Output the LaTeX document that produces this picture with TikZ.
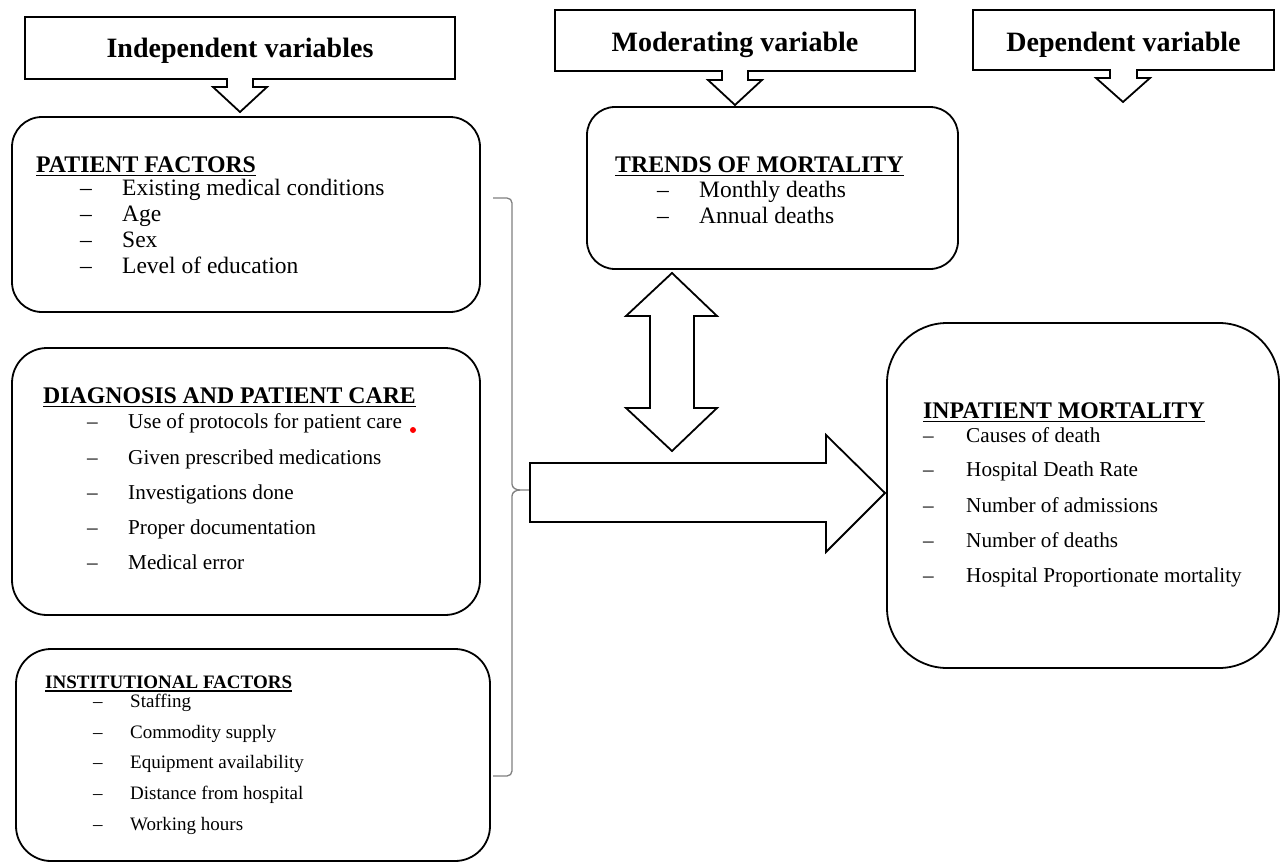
\documentclass[tikz,border=0pt]{standalone}
\usepackage{fontspec}
\setmainfont{Liberation Serif}
\begin{document}
\begin{tikzpicture}[x=1pt,y=-1pt,
  hdr/.style={draw=black, line width=1.8pt, fill=white, line join=miter},
  rbox/.style={draw=black, line width=1.8pt, inner sep=0pt},
  blockarrow/.style={draw=black, line width=1.8pt, fill=white, line join=miter},
  brace/.style={draw=gray, line width=1.3pt},
  htext/.style={inner sep=0pt, anchor=base, font=\fontsize{28}{32}\selectfont\bfseries},
  ttl/.style={inner sep=0pt, anchor=base west, font=\fontsize{23.8}{27}\selectfont\bfseries},
  ttlsmall/.style={inner sep=0pt, anchor=base west, font=\fontsize{19}{22}\selectfont\bfseries},
  itm/.style={inner sep=0pt, anchor=base west, font=\fontsize{23.5}{27}\selectfont},
  itmmid/.style={inner sep=0pt, anchor=base west, font=\fontsize{21.2}{25}\selectfont},
  itmsmall/.style={inner sep=0pt, anchor=base west, font=\fontsize{19}{22}\selectfont},
  uline/.style={line width=1.5pt}
]
\useasboundingbox (0,0) rectangle (1282,865);

% ---------- Header callouts ----------
\draw[hdr] (25,17) -- (455,17) -- (455,79) -- (253,79) -- (253,87) -- (267,87)
  -- (240,112) -- (213,87) -- (227,87) -- (227,79) -- (25,79) -- cycle;
\node[htext] (hind) at (240,57) {Independent variables};

\draw[hdr] (555,10) -- (915,10) -- (915,71) -- (748,71) -- (748,80) -- (762,80)
  -- (735,105) -- (708,80) -- (722,80) -- (722,71) -- (555,71) -- cycle;
\node[htext] (hmod) at (735,51) {Moderating variable};

\draw[hdr] (973,10) -- (1274,10) -- (1274,70) -- (1137,70) -- (1137,78) -- (1150,78)
  -- (1123,102) -- (1096,78) -- (1110,78) -- (1110,70) -- (973,70) -- cycle;
\node[htext] (hdep) at (1123.5,51) {Dependent variable};

% ---------- Patient factors ----------
\node[rbox, rounded corners=30pt, minimum width=468pt, minimum height=195pt] (pf) at (246,214.5) {};
\node[ttl] (pft) at (36,172) {PATIENT FACTORS};
\draw[uline] ([yshift=-3.5pt]pft.base west) -- ([yshift=-3.5pt]pft.base east);
\node[itm] (pfd1) at (80,195) {--};
\node[itm] (pf1) at (122,195) {Existing medical conditions};
\node[itm] (pfd2) at (80,221) {--};
\node[itm] (pf2) at (122,221) {Age};
\node[itm] (pfd3) at (80,247) {--};
\node[itm] (pf3) at (122,247) {Sex};
\node[itm] (pfd4) at (80,273) {--};
\node[itm] (pf4) at (122,273) {Level of education};

% ---------- Diagnosis and patient care ----------
\node[rbox, rounded corners=35pt, minimum width=468pt, minimum height=267pt] (dg) at (246,481.5) {};
\node[ttl] (dgt) at (43,403) {DIAGNOSIS AND PATIENT CARE};
\draw[uline] ([yshift=-3.5pt]dgt.base west) -- ([yshift=-3.5pt]dgt.base east);
\node[itmmid] (dgd1) at (87,428) {--};
\node[itmmid] (dg1) at (128,428) {Use of protocols for patient care};
\node[itmmid] (dgd2) at (87,464) {--};
\node[itmmid] (dg2) at (128,464) {Given prescribed medications};
\node[itmmid] (dgd3) at (87,499) {--};
\node[itmmid] (dg3) at (128,499) {Investigations done};
\node[itmmid] (dgd4) at (87,534) {--};
\node[itmmid] (dg4) at (128,534) {Proper documentation};
\node[itmmid] (dgd5) at (87,569) {--};
\node[itmmid] (dg5) at (128,569) {Medical error};
\fill[red] (413,430) circle (3pt);

% ---------- Institutional factors ----------
\node[rbox, rounded corners=35pt, minimum width=474pt, minimum height=212pt] (inst) at (253,755) {};
\node[ttlsmall] (instt) at (45,688) {INSTITUTIONAL FACTORS};
\draw[line width=1.2pt] ([yshift=-3pt]instt.base west) -- ([yshift=-3pt]instt.base east);
\node[itmsmall] (instd1) at (93,707) {--};
\node[itmsmall] (inst1) at (130,707) {Staffing};
\node[itmsmall] (instd2) at (93,738) {--};
\node[itmsmall] (inst2) at (130,738) {Commodity supply};
\node[itmsmall] (instd3) at (93,768) {--};
\node[itmsmall] (inst3) at (130,768) {Equipment availability};
\node[itmsmall] (instd4) at (93,799) {--};
\node[itmsmall] (inst4) at (130,799) {Distance from hospital};
\node[itmsmall] (instd5) at (93,830) {--};
\node[itmsmall] (inst5) at (130,830) {Working hours};

% ---------- Trends of mortality ----------
\node[rbox, rounded corners=28pt, minimum width=371pt, minimum height=162pt] (tr) at (772.5,188) {};
\node[ttl] (trt) at (615,172) {TRENDS OF MORTALITY};
\draw[uline] ([yshift=-3.5pt]trt.base west) -- ([yshift=-3.5pt]trt.base east);
\node[itm] (trd1) at (657,197) {--};
\node[itm] (tr1) at (699,197) {Monthly deaths};
\node[itm] (trd2) at (657,223) {--};
\node[itm] (tr2) at (699,223) {Annual deaths};

% ---------- Inpatient mortality ----------
\node[rbox, rounded corners=60pt, minimum width=392pt, minimum height=345pt] (im) at (1083,495.5) {};
\node[ttl] (imt) at (923,418) {INPATIENT MORTALITY};
\draw[uline] ([yshift=-3.5pt]imt.base west) -- ([yshift=-3.5pt]imt.base east);
\node[itmmid] (imd1) at (923,442) {--};
\node[itmmid] (im1) at (966,442) {Causes of death};
\node[itmmid] (imd2) at (923,476) {--};
\node[itmmid] (im2) at (966,476) {Hospital Death Rate};
\node[itmmid] (imd3) at (923,512) {--};
\node[itmmid] (im3) at (966,512) {Number of admissions};
\node[itmmid] (imd4) at (923,547) {--};
\node[itmmid] (im4) at (966,547) {Number of deaths};
\node[itmmid] (imd5) at (923,582) {--};
\node[itmmid] (im5) at (966,582) {Hospital Proportionate mortality};

% ---------- Brace ----------
\coordinate (btop) at (493,198);
\coordinate (bbot) at (493,776);
\coordinate (btip) at (530,490);
\draw[brace] (btop) -- (507,198) to[out=0,in=90] (512,203) -- (512,484)
  to[out=-90,in=180] (520,490) -- (btip);
\draw[brace] (520,490) to[out=180,in=90] (512,496) -- (512,771)
  to[out=-90,in=0] (507,776) -- (bbot);

% ---------- Double arrow ----------
\draw[blockarrow] (672,273) -- (717,316) -- (694,316) -- (694,408) -- (717,408)
  -- (672,451) -- (626,408) -- (650,408) -- (650,316) -- (626,316) -- cycle;

% ---------- Big arrow ----------
\draw[blockarrow] (btip) ++(0,-27) -- (826,463) -- (826,435) -- (885,493)
  -- (826,552) -- (826,522) -- (530,522) -- cycle;
\end{tikzpicture}
\end{document}
